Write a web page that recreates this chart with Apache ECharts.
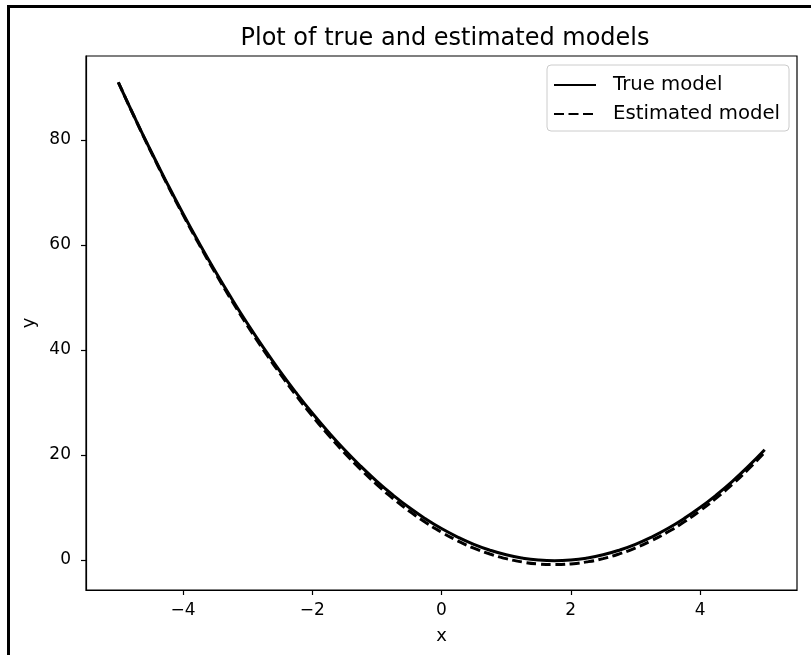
<!DOCTYPE html>
<html>
<head>
<meta charset="utf-8">
<script src="https://cdn.jsdelivr.net/npm/echarts@6/dist/echarts.min.js"></script>
<style>html,body{margin:0;padding:0;background:#fff;}#c{width:811px;height:655px;}</style>
</head>
<body>
<div id="c"></div>
<script>
const xValues = [-5,-4.75,-4.5,-4.25,-4,-3.75,-3.5,-3.25,-3,-2.75,-2.5,-2.25,-2,-1.75,-1.5,-1.25,-1,-0.75,-0.5,-0.25,0,0.25,0.5,0.75,1,1.25,1.5,1.75,2,2.25,2.5,2.75,3,3.25,3.5,3.75,4,4.25,4.5,4.75,5];
const trueModel = [91,84.38,78,71.88,66,60.38,55,49.88,45,40.38,36,31.88,28,24.38,21,17.88,15,12.38,10,7.88,6,4.38,3,1.88,1,0.38,0,-0.13,0,0.38,1,1.88,3,4.38,6,7.88,10,12.38,15,17.88,21];
const estimatedModel = [91.0,84.32,77.89,71.71,65.79,60.12,54.70,49.52,44.61,39.95,35.54,31.38,27.47,23.82,20.42,17.26,14.37,11.73,9.33,7.19,5.3,3.67,2.27,1.15,0.27,-0.36,-0.74,-0.86,-0.73,-0.34,0.28,1.17,2.31,3.70,5.34,7.24,9.39,11.79,14.43,17.34,20.5];
const xTicks = [-4,-2,0,2,4];
const yTicks = [0,20,40,60,80];
const seriesNames = ['True model','Estimated model'];
const titleText = 'Plot of true and estimated models';

const fmt = v => v < 0 ? '\u2212' + Math.abs(v) : String(v);
const font = 'DejaVu Sans';
const chart = echarts.init(document.getElementById('c'), null, {renderer:'canvas'});
chart.setOption({
  animation: false,
  backgroundColor: '#fff',
  textStyle: {fontFamily: font},
  title: {
    text: titleText, left: 440, textAlign: 'center', top: 22,
    textStyle: {fontFamily: font, fontSize: 24, fontWeight: 'normal', color: '#000'}
  },
  graphic: [{
    type: 'rect', left: 6, top: 4, shape: {x: 0, y: 0, width: 900, height: 900},
    style: {fill: null, stroke: '#000', lineWidth: 3}, silent: true, z: 100
  }],
  legend: {
    orient: 'vertical', left: 547, top: 65,
    padding: [10, 9, 7, 6], itemGap: 9, itemWidth: 42, itemHeight: 16,
    backgroundColor: '#fff', borderColor: '#cccccc', borderWidth: 1, borderRadius: 4,
    itemStyle: {opacity: 0},
    textStyle: {fontFamily: font, fontSize: 19.7, color: '#000', padding: [0, 0, 0, 12]},
    data: seriesNames
  },
  grid: {left: 86, right: 14, top: 56, bottom: 65, show: true, borderColor: '#000', borderWidth: 1.2, backgroundColor: 'transparent'},
  xAxis: {
    type: 'value', min: -5.5, max: 5.5,
    name: 'x', nameLocation: 'middle', nameGap: 37,
    nameTextStyle: {fontFamily: font, fontSize: 18, color: '#000'},
    axisLine: {show: true, onZero: false, lineStyle: {color: '#000', width: 1.2}},
    axisTick: {show: true, length: 5, customValues: xTicks, lineStyle: {color: '#000', width: 1.2}},
    axisLabel: {customValues: xTicks, formatter: fmt, fontFamily: font, fontSize: 17, color: '#000', margin: 12},
    splitLine: {show: false}
  },
  yAxis: {
    type: 'value', min: -5.7, max: 96,
    name: 'y', nameLocation: 'middle', nameGap: 48, nameRotate: 90,
    nameTextStyle: {fontFamily: font, fontSize: 18, color: '#000'},
    axisLine: {show: true, onZero: false, lineStyle: {color: '#000', width: 1.2}},
    axisTick: {show: true, length: 5, customValues: yTicks, lineStyle: {color: '#000', width: 1.2}},
    axisLabel: {customValues: yTicks, formatter: fmt, fontFamily: font, fontSize: 17, color: '#000', margin: 15},
    splitLine: {show: false}
  },
  series: [
    {
      name: seriesNames[0], type: 'line', showSymbol: false, symbol: 'none', smooth: true,
      data: xValues.map((x, i) => [x, trueModel[i]]),
      lineStyle: {color: '#000', width: 3, type: 'solid'}, itemStyle: {color: '#000'}
    },
    {
      name: seriesNames[1], type: 'line', showSymbol: false, symbol: 'none', smooth: true,
      data: xValues.map((x, i) => [x, estimatedModel[i]]),
      lineStyle: {color: '#000', width: 3, type: [10, 4.5]}, itemStyle: {color: '#000'}
    }
  ]
});
</script>
</body>
</html>
